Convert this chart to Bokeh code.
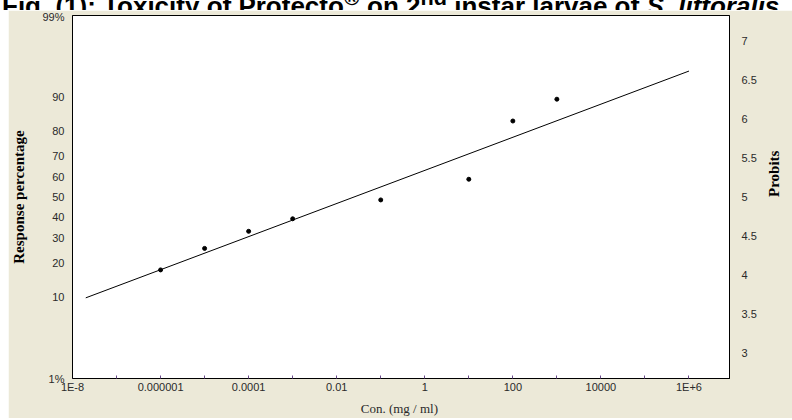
from statistics import NormalDist
import math
from bokeh.plotting import figure
from bokeh.models import (Range1d, LinearAxis, FixedTicker, CustomJSTickFormatter, Div)
from bokeh.layouts import column
from bokeh.embed import file_html
from bokeh.resources import INLINE

# ---------------- data ----------------
conc = [1e-6, 1e-5, 1e-4, 1e-3, 1e-1, 1e1, 1e2, 1e3]          # mg/ml
response = [17.5, 25.5, 33.0, 39.0, 48.5, 59.0, 83.5, 89.5]     # response %

fit_slope = 0.2122        # probits per decade
fit_intercept = 5.341     # probit at 1 mg/ml
fit_conc = [2e-8, 1e6]    # extent of the fitted line

x_ticks = [1e-8, 1e-6, 1e-4, 1e-2, 1, 1e2, 1e4, 1e6]
x_tick_labels = ["1E-8", "0.000001", "0.0001", "0.01", "1", "100", "10000", "1E+6"]
x_minor = [1e-7, 1e-5, 1e-3, 1e-1, 1e1, 1e3, 1e5]

pct_ticks = [1, 10, 20, 30, 40, 50, 60, 70, 80, 90, 99]
pct_labels = ["1%", "10", "20", "30", "40", "50", "60", "70", "80", "90", "99%"]

probit_ticks = [3, 3.5, 4, 4.5, 5, 5.5, 6, 6.5, 7]
probit_labels = ["3", "3.5", "4", "4.5", "5", "5.5", "6", "6.5", "7"]

title_html = ("Fig. (1): Toxicity of Protecto<sup>®</sup> on 2<sup>nd</sup> "
              "instar larvae of <i>S. littoralis</i>")

# ---------------- helpers ----------------
nd = NormalDist()
def probit(p):
    return 5 + nd.inv_cdf(p / 100.0)

resp_probit = [probit(v) for v in response]
fit_probit = [fit_intercept + fit_slope * math.log10(c) for c in fit_conc]
pct_tick_pos = [probit(v) for v in pct_ticks]

BEIGE = "#ECE9D8"
TXT = "#2a2a2a"
TICKC = "#6a4a8a"

FMT_LOG = """
for (let i = 0; i < tv.length; i++) {
  if (Math.abs(Math.log10(tick) - Math.log10(tv[i])) < 1e-6) return lab[i];
}
return "";
"""
FMT_LIN = """
for (let i = 0; i < tv.length; i++) {
  if (Math.abs(tick - tv[i]) < 1e-6) return lab[i];
}
return "";
"""

p = figure(width=784, height=408, x_axis_type="log",
           x_range=Range1d(1e-8, 10 ** 6.92),
           y_range=Range1d(probit(1), probit(99)),
           output_backend="svg", toolbar_location=None,
           min_border_left=62, min_border_right=59,
           min_border_top=5, min_border_bottom=39,
           margin=(0, 0, 0, 8))
p.border_fill_color = BEIGE
p.background_fill_color = "white"
p.outline_line_color = "black"
p.outline_line_width = 1
p.xgrid.visible = False
p.ygrid.visible = False

# fitted line and observed points
p.line(fit_conc, fit_probit, line_color="black", line_width=1)
p.scatter(conc, resp_probit, marker="circle", size=4, fill_color="black", line_color="black")

# bottom axis
xa = p.xaxis[0]
xa.ticker = FixedTicker(ticks=x_ticks, minor_ticks=x_minor)
xa.formatter = CustomJSTickFormatter(args=dict(tv=x_ticks, lab=x_tick_labels), code=FMT_LOG)
xa.major_tick_in = 3
xa.major_tick_out = 0
xa.minor_tick_in = 3
xa.minor_tick_out = 0
xa.major_tick_line_color = TICKC
xa.minor_tick_line_color = TICKC
xa.axis_line_color = "black"
xa.major_label_text_font = "Liberation Sans"
xa.major_label_text_font_size = "11px"
xa.major_label_text_color = TXT
xa.major_label_standoff = 2
xa.axis_label = "Con.  (mg / ml)"
xa.axis_label_text_font = "Liberation Serif"
xa.axis_label_text_font_style = "normal"
xa.axis_label_text_font_size = "13px"
xa.axis_label_text_color = TXT
xa.axis_label_standoff = 5

# left axis (response percentage on probit scale)
ya = p.yaxis[0]
ya.ticker = FixedTicker(ticks=pct_tick_pos, minor_ticks=[])
ya.formatter = CustomJSTickFormatter(args=dict(tv=pct_tick_pos, lab=pct_labels), code=FMT_LIN)
ya.major_tick_in = 0
ya.major_tick_out = 0
ya.minor_tick_in = 0
ya.minor_tick_out = 0
ya.axis_line_color = "black"
ya.major_label_text_font = "Liberation Sans"
ya.major_label_text_font_size = "11px"
ya.major_label_text_color = TXT
ya.major_label_standoff = 8
ya.axis_label = "Response percentage"
ya.axis_label_text_font = "Liberation Serif"
ya.axis_label_text_font_style = "bold"
ya.axis_label_text_font_size = "15px"
ya.axis_label_text_color = "black"
ya.axis_label_standoff = 12

# right axis (probits)
ra = LinearAxis(ticker=FixedTicker(ticks=probit_ticks, minor_ticks=[]))
ra.formatter = CustomJSTickFormatter(args=dict(tv=probit_ticks, lab=probit_labels), code=FMT_LIN)
ra.major_tick_in = 0
ra.major_tick_out = 0
ra.minor_tick_in = 0
ra.minor_tick_out = 0
ra.axis_line_color = "black"
ra.major_label_text_font = "Liberation Sans"
ra.major_label_text_font_size = "11px"
ra.major_label_text_color = TXT
ra.major_label_standoff = 12
ra.axis_label = "Probits"
ra.axis_label_orientation = math.pi / 2
ra.axis_label_text_font = "Liberation Serif"
ra.axis_label_text_font_style = "bold"
ra.axis_label_text_font_size = "15px"
ra.axis_label_text_color = "black"
ra.axis_label_standoff = 14
p.add_layout(ra, "right")

title = Div(text=title_html, width=790, height=24, margin=(-14, 0, 0, 2),
            styles={"font-family": "'Liberation Sans'",
                    "font-weight": "bold", "font-size": "26px",
                    "line-height": "24px", "white-space": "nowrap",
                    "overflow": "hidden", "color": "black"})

layout = column(title, p, spacing=0)

with open("out.html", "w") as f:
    f.write(file_html(layout, INLINE))
